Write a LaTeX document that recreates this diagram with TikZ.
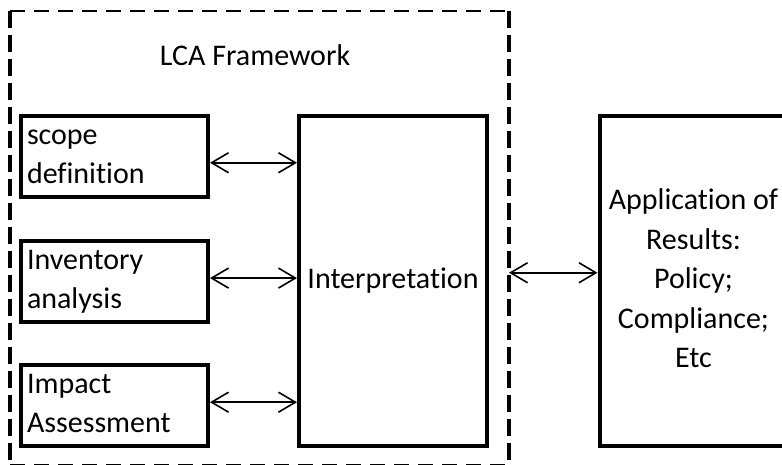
\documentclass[tikz,border=0pt]{standalone}
\usepackage{fontspec}
\setmainfont{Carlito}[Ligatures=NoCommon]
\usetikzlibrary{arrows.meta}

\begin{document}
\begin{tikzpicture}[x=0.5pt, y=-0.5pt,
  font=\fontsize{15}{19.75}\selectfont,
  stage/.style={draw, line width=2pt, rectangle, text width=87.5pt, inner xsep=3pt, inner ysep=0pt, align=left, minimum height=40.5pt},
  bigbox/.style={draw, line width=2pt, rectangle, minimum width=94pt, minimum height=165pt, inner sep=2pt, align=center},
  hedge/.style={line width=1pt, dash pattern=on 7.5pt off 4.5pt},
  vedge/.style={line width=1.75pt, dash pattern=on 8.5pt off 3.5pt},
  link/.style={line width=0.8pt, {Straight Barb[length=8.5pt,width=10pt]}-{Straight Barb[length=8.5pt,width=10pt]}}]
\useasboundingbox (0,0) rectangle (782,465);
\clip (0,0) rectangle (782,465);
% LCA frame, thin dashes across, heavy dashes down
\draw node[rectangle, inner sep=0pt, outer sep=0pt, minimum width=249.5pt, minimum height=226.75pt] (frame) at (259.5,237.75) {};
\draw[hedge] (frame.north west) -- (frame.north east);
\draw[hedge] (frame.south west) -- (frame.south east);
\draw[vedge] (frame.north west) -- (frame.south west);
\draw[vedge] (frame.north east) -- (frame.south east);
\draw node[anchor=base] (title) at (255,65.7) {LCA Framework};
\draw node[stage] (scope) at (114.5,156.25) {\strut scope\\definition\strut};
\draw node[stage] (inventory) at (114.5,281.1) {\strut Inventory\\analysis\strut};
\draw node[stage] (impact) at (114.5,405.2) {\strut Impact\\Assessment\strut};
\draw node[bigbox] (interp) at (393,281) {\strut Interpretation};
\draw node[bigbox] (app) at (693.5,280.75) {\strut Application of\\Results:\\Policy;\\Compliance;\\Etc\strut};
% links into interpretation
\draw[link] (scope.east) ++(0,6.5) coordinate (s1) -- (s1 -| interp.west);
\draw[link] (inventory.east) ++(0,-3) coordinate (s2) -- (s2 -| interp.west);
\draw[link] (impact.east) ++(0,-3) coordinate (s3) -- (s3 -| interp.west);
\draw[link] (app.west) ++(0,-8) coordinate (a1) -- (a1 -| frame.east);
\end{tikzpicture}
\end{document}
